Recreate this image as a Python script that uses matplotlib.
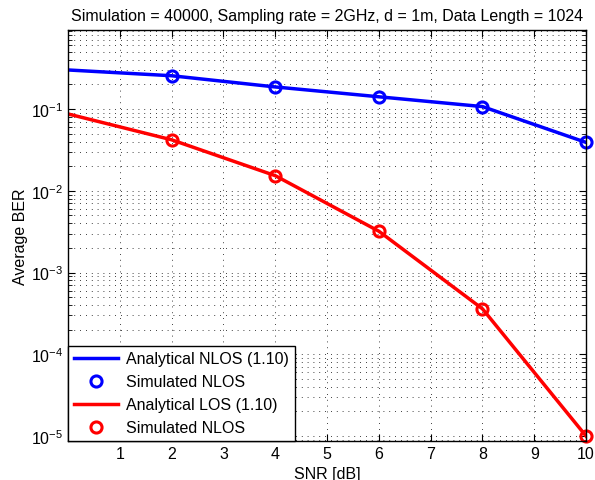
import matplotlib
matplotlib.use("Agg")
import matplotlib.pyplot as plt
from matplotlib.ticker import LogLocator, FixedLocator, NullFormatter

plt.rcParams['font.family'] = ['Liberation Sans', 'DejaVu Sans']
plt.rcParams['mathtext.fontset'] = 'custom'
plt.rcParams['mathtext.rm'] = 'Liberation Sans'

snr_analytic = [0, 2, 4, 6, 8, 10]
snr_sim = [2, 4, 6, 8, 10]
ber_nlos_analytic = [0.30, 0.255, 0.186, 0.141, 0.107, 0.039]
ber_nlos_sim = [0.255, 0.186, 0.141, 0.107, 0.039]
ber_los_analytic = [0.087, 0.042, 0.0153, 0.0032, 0.00036, 0.00001]
ber_los_sim = [0.042, 0.0153, 0.0032, 0.00036, 0.00001]
xticks = [1, 2, 3, 4, 5, 6, 7, 8, 9, 10]

fs = 11.5
fig = plt.figure(figsize=(5.95, 4.81), dpi=100)
ax = fig.add_axes([0.1143, 0.081, 0.8707, 0.855])

ax.semilogy(snr_analytic, ber_nlos_analytic, color='#0000ff', lw=2.5, label='Analytical NLOS (1.10)')
ax.semilogy(snr_sim, ber_nlos_sim, 'o', color='#0000ff', mfc='none', mew=2.2, ms=8, label='Simulated NLOS', clip_on=False)
ax.semilogy(snr_analytic, ber_los_analytic, color='#ff0000', lw=2.5, label='Analytical LOS (1.10)')
ax.semilogy(snr_sim, ber_los_sim, 'o', color='#ff0000', mfc='none', mew=2.2, ms=8, label='Simulated NLOS', clip_on=False)

ax.set_xlim(0, 10)
ax.set_ylim(8.7e-6, 0.93)
ax.xaxis.set_major_locator(FixedLocator(xticks))
ax.yaxis.set_major_locator(LogLocator(base=10, numticks=20))
ax.yaxis.set_minor_locator(LogLocator(base=10, subs=range(2, 10), numticks=20))
ax.yaxis.set_minor_formatter(NullFormatter())

ax.grid(True, which='major', linestyle=(0, (1, 6)), color='black', lw=0.6)
ax.grid(True, which='minor', axis='y', linestyle=(0, (1, 6)), color='black', lw=0.6)
ax.tick_params(which='both', direction='in', top=True, right=True, labelsize=fs)
ax.tick_params(which='major', length=5)
ax.tick_params(which='minor', length=3)
for s in ax.spines.values():
    s.set_linewidth(1.0)

ax.set_title('Simulation = 40000, Sampling rate = 2GHz, d = 1m, Data Length = 1024', fontsize=fs, pad=7)
ax.set_xlabel('SNR [dB]', fontsize=fs, labelpad=4)
ax.set_ylabel('Average BER', fontsize=fs, labelpad=2)

leg = ax.legend(loc='lower left', fontsize=fs, fancybox=False, framealpha=1, edgecolor='black',
                borderaxespad=0, handlelength=2.8, handletextpad=0.5, labelspacing=0.5, borderpad=0.35)
leg.get_frame().set_linewidth(1.0)

fig.savefig('out.png', dpi=100)
